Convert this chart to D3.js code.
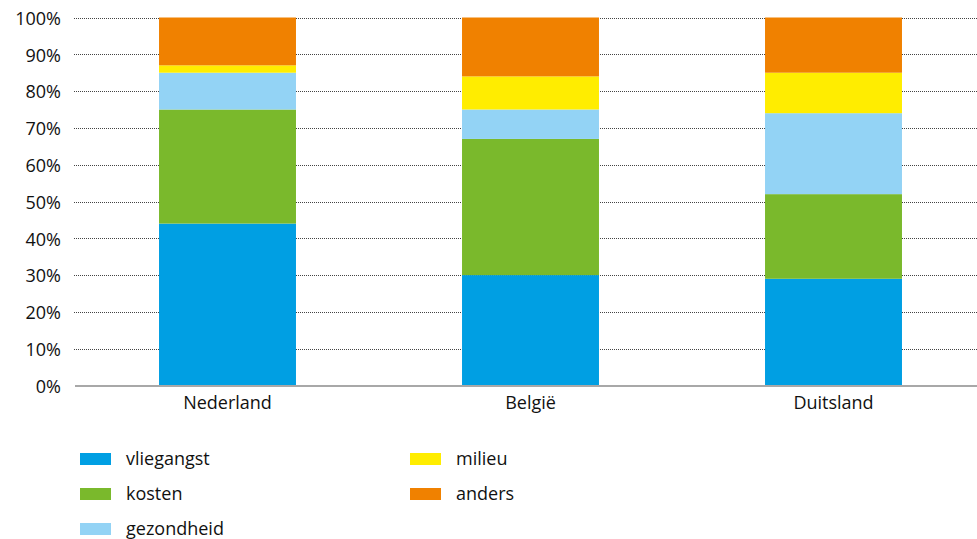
<!DOCTYPE html>
<html>
<head>
<meta charset="utf-8">
<script src="https://cdn.jsdelivr.net/npm/d3@7"></script>
<style>
  html, body { margin: 0; padding: 0; background: #fff; }
  svg { display: block; font-family: "Open Sans", "Noto Sans", sans-serif; }
</style>
</head>
<body>
<svg id="chart" width="977" height="539"></svg>
<script>
// Reasons (percent) per country
const countries = ["Nederland", "België", "Duitsland"];
const reasons = ["vliegangst", "kosten", "gezondheid", "milieu", "anders"];
const vliegangst = [44, 30, 29];
const kosten     = [31, 37, 23];
const gezondheid = [10, 8, 22];
const milieu     = [2, 9, 11];
const anders     = [13, 16, 15];
const colors = ["#009fe3", "#7ab92c", "#93d3f5", "#ffed00", "#f08100"];
const yTicks = [0, 10, 20, 30, 40, 50, 60, 70, 80, 90, 100];

const series = [vliegangst, kosten, gezondheid, milieu, anders];
const rows = countries.map((c, i) => {
  const r = { country: c };
  reasons.forEach((k, j) => { r[k] = series[j][i]; });
  return r;
});

const fontSize = 18;
const textColor = "#111";

const svg = d3.select("#chart");
const x = d3.scaleBand().domain(countries).range([76, 985]).paddingInner(0.548).paddingOuter(0.274);
const y = d3.scaleLinear().domain([0, 100]).range([385.5, 17.5]);

// dotted gridlines
svg.append("g").selectAll("line")
  .data(yTicks.filter(d => d > 0))
  .join("line")
  .attr("x1", 74).attr("x2", 977)
  .attr("y1", d => Math.round(y(d)) + 0.5).attr("y2", d => Math.round(y(d)) + 0.5)
  .attr("stroke", "#444").attr("stroke-width", 1).attr("stroke-dasharray", "1,1");

// y axis labels
const yAxis = d3.axisLeft(y).tickValues(yTicks).tickFormat(d => d + "%").tickSize(0).tickPadding(0);
svg.append("g").attr("transform", "translate(61,1)").call(yAxis)
  .call(g => g.select(".domain").remove())
  .call(g => g.selectAll("text").attr("font-size", fontSize).attr("fill", textColor)
    .attr("font-family", "'Open Sans', 'Noto Sans', sans-serif"));

// stacked bars
const stack = d3.stack().keys(reasons)(rows);
svg.append("g").selectAll("g")
  .data(stack)
  .join("g")
  .attr("fill", (d, i) => colors[i])
  .selectAll("rect")
  .data(d => d)
  .join("rect")
  .attr("x", d => x(d.data.country))
  .attr("width", x.bandwidth())
  .attr("y", d => y(d[1]))
  .attr("height", d => y(d[0]) - y(d[1]));

// baseline
svg.append("line")
  .attr("x1", 75).attr("x2", 977)
  .attr("y1", y(0) + 0.5).attr("y2", y(0) + 0.5)
  .attr("stroke", "#a8a8a8").attr("stroke-width", 2);

// x axis labels
const xAxis = d3.axisBottom(x).tickSize(0).tickPadding(0);
svg.append("g").attr("transform", `translate(0,${y(0) + 11})`).call(xAxis)
  .call(g => g.select(".domain").remove())
  .call(g => g.selectAll("text").attr("font-size", fontSize).attr("fill", textColor)
    .attr("font-family", "'Open Sans', 'Noto Sans', sans-serif"));

// legend
const legendPos = [
  { x: 80, y: 453 }, { x: 80, y: 488 }, { x: 80, y: 523 },
  { x: 410, y: 453 }, { x: 410, y: 488 }
];
const legend = svg.append("g").selectAll("g")
  .data(reasons)
  .join("g")
  .attr("transform", (d, i) => `translate(${legendPos[i].x},${legendPos[i].y})`);
legend.append("rect").attr("width", 31).attr("height", 12).attr("fill", (d, i) => colors[i]);
legend.append("text").attr("x", 46).attr("y", 6).attr("dy", "0.35em")
  .attr("font-size", fontSize).attr("fill", textColor).text(d => d);
</script>
</body>
</html>
